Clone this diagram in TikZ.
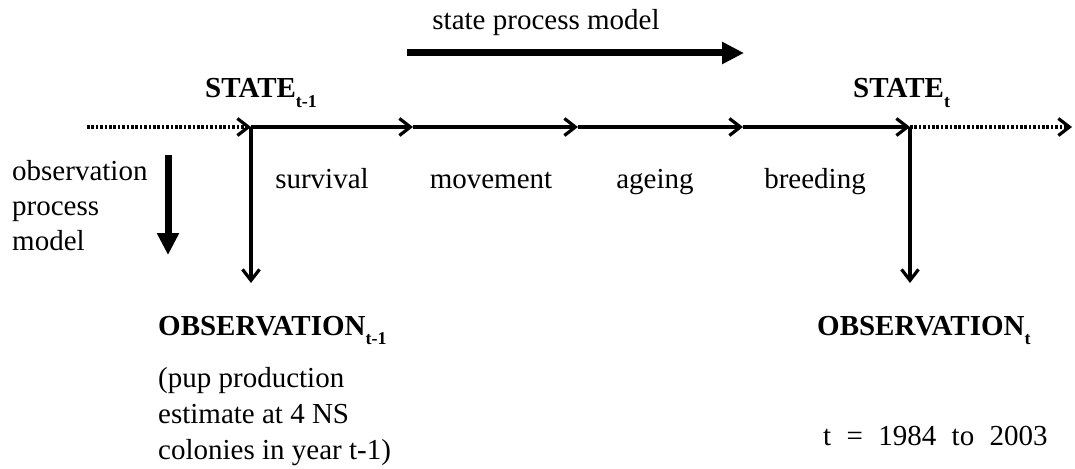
\documentclass[tikz,border=0pt]{standalone}
\usepackage{fontspec}
\setmainfont{Liberation Serif}
\usetikzlibrary{arrows.meta}
\newcommand{\sbs}[1]{\raisebox{-0.32em}{\fontsize{18}{18}\selectfont\bfseries #1}}
\begin{document}
\begin{tikzpicture}[x=1pt,y=-1pt,
  txt/.style={inner sep=0pt,anchor=base west,font=\fontsize{29}{35}\selectfont},
  ctxt/.style={inner sep=0pt,anchor=base,font=\fontsize{29}{35}\selectfont},
  btxt/.style={inner sep=0pt,anchor=base west,font=\fontsize{29}{35}\selectfont\bfseries},
  flow/.style={line width=3.2pt,-{Straight Barb[length=11pt,width=17pt,line width=3.2pt]}},
  dotline/.style={line width=3.2pt,dash pattern=on 2.6pt off 1.8pt,-{Straight Barb[length=11pt,width=17pt,line width=3.2pt]}},
  thick arrow/.style={line width=7pt,-{Triangle[length=22pt,width=21pt]}}]
\useasboundingbox (0,0) rectangle (1075,468);
% coordinates on the time line
\coordinate (L) at (87,127);
\coordinate (S1) at (251,127);
\coordinate (a1) at (413,127);
\coordinate (a2) at (578,127);
\coordinate (a3) at (743,127);
\coordinate (S2) at (910,127);
\coordinate (R) at (1072,127);
\coordinate (O1) at (251,283);
\coordinate (O2) at (910,283);
\coordinate (sp1) at (407,53);
\coordinate (sp2) at (744,53);
\coordinate (op1) at (168,155);
\coordinate (op2) at (168,255);
% labels
\node[ctxt] (spm) at (546,30) {state process model};
\node[btxt] (st1) at (205,98) {STATE\sbs{t-1}};
\node[btxt] (st2) at (853,98) {STATE\sbs{t}};
\node[txt] (opm1) at (12,180) {observation};
\node[txt] (opm2) at (12,215) {process};
\node[txt] (opm3) at (12,250) {model};
\node[ctxt] (surv) at (322,188) {survival};
\node[ctxt] (move) at (491,188) {movement};
\node[ctxt] (age) at (655,188) {ageing};
\node[ctxt] (breed) at (815,188) {breeding};
\node[btxt] (ob1) at (158,335) {OBSERVATION\sbs{t-1}};
\node[btxt] (ob2) at (817,335) {OBSERVATION\sbs{t}};
\node[txt] (p1) at (158,387) {(pup production};
\node[txt] (p2) at (158,423) {estimate at 4 NS};
\node[txt] (p3) at (158,459) {colonies in year t-1)};
\node[txt] (range) at (823,445) {t\hspace{0.53em}=\hspace{0.53em}1984\hspace{0.53em}to\hspace{0.53em}2003};
% time line
\draw[dotline] (L) -- (S1);
\draw[flow] (S1) -- (a1);
\draw[flow] (a1) -- (a2);
\draw[flow] (a2) -- (a3);
\draw[flow] (a3) -- (S2);
\draw[dotline] (S2) -- (R);
% observation links
\draw[flow] (S1) -- (O1);
\draw[flow] (S2) -- (O2);
% process arrows
\draw[thick arrow] (sp1) -- (sp2);
\draw[thick arrow] (op1) -- (op2);
\end{tikzpicture}
\end{document}
